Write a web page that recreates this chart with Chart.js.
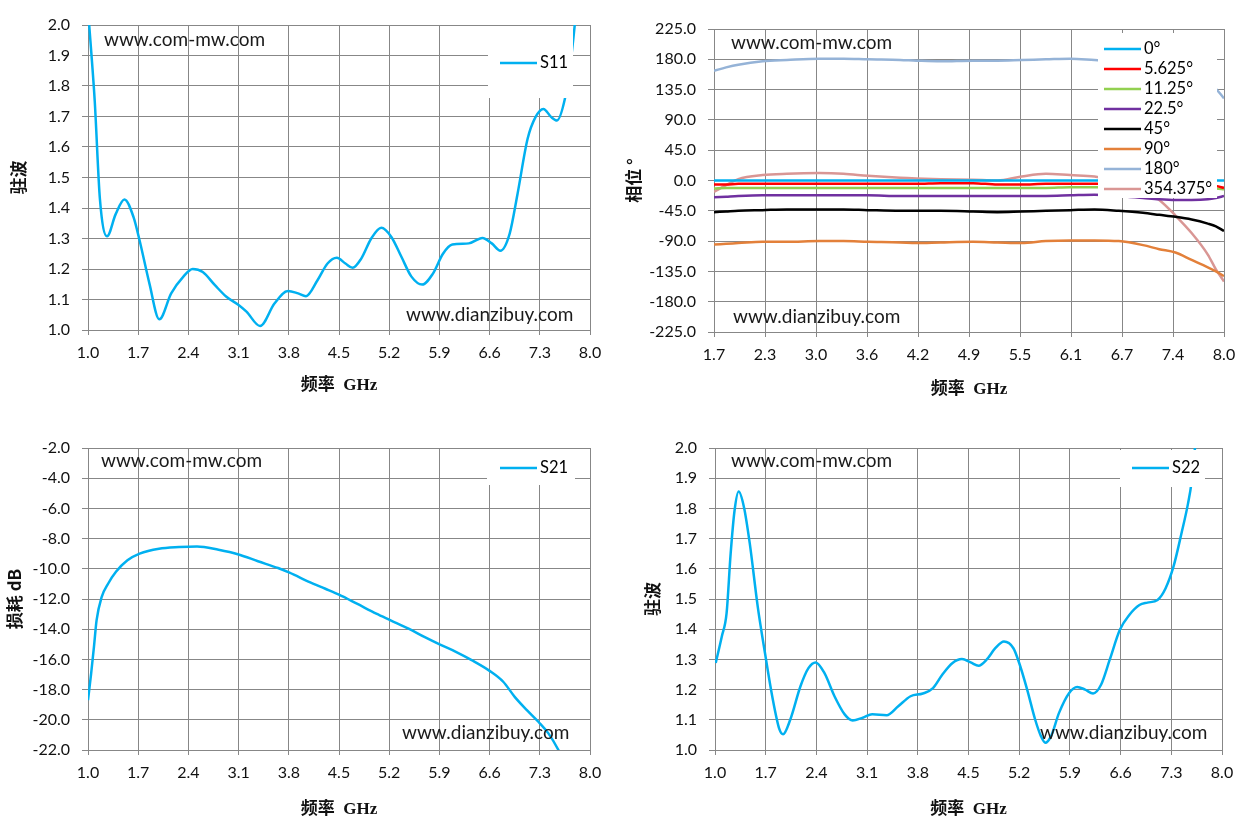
<!DOCTYPE html>
<html>
<head>
<meta charset="utf-8">
<script src="https://cdn.jsdelivr.net/npm/chart.js@4.4.1/dist/chart.umd.min.js"></script>
<style>
  body { margin: 0; background: #fff; }
  .cell { position: absolute; }
</style>
</head>
<body>
<div class="cell" style="left:0;top:0"><canvas id="s11" width="626" height="416"></canvas></div>
<div class="cell" style="left:616px;top:0"><canvas id="phase" width="637" height="416"></canvas></div>
<div class="cell" style="left:0;top:416px"><canvas id="s21" width="626" height="416"></canvas></div>
<div class="cell" style="left:626px;top:416px"><canvas id="s22" width="627" height="416"></canvas></div>
<script>
// ---- data ----
const freqLabels = ["1.0", "1.7", "2.4", "3.1", "3.8", "4.5", "5.2", "5.9", "6.6", "7.3", "8.0"];
const phaseFreqLabels = ["1.7", "2.3", "3.0", "3.6", "4.2", "4.9", "5.5", "6.1", "6.7", "7.4", "8.0"];

const s11Freq = [1.0, 1.044, 1.094, 1.166, 1.265, 1.386, 1.508, 1.635, 1.718, 1.856, 1.994, 2.16, 2.33, 2.46, 2.6,
  2.77, 2.93, 3.1, 3.21, 3.4, 3.6, 3.79, 3.93, 4.04, 4.2, 4.34, 4.47, 4.59, 4.69, 4.81, 4.95, 5.09, 5.23, 5.37,
  5.51, 5.66, 5.81, 5.95, 6.08, 6.31, 6.5, 6.63, 6.75, 6.88, 6.99, 7.13, 7.24, 7.35, 7.46, 7.54, 7.65, 7.72, 7.77, 7.8];
const s11Vswr = [2.05, 1.916, 1.75, 1.43, 1.307, 1.38, 1.428, 1.37, 1.295, 1.153, 1.035, 1.12, 1.175, 1.2, 1.19,
  1.147, 1.109, 1.082, 1.06, 1.013, 1.087, 1.128, 1.12, 1.111, 1.163, 1.218, 1.237, 1.218, 1.204, 1.234, 1.30, 1.335,
  1.305, 1.24, 1.175, 1.149, 1.185, 1.25, 1.28, 1.284, 1.302, 1.284, 1.26, 1.316, 1.447, 1.627, 1.698, 1.725, 1.698,
  1.687, 1.758, 1.86, 1.96, 2.03];

const phaseFreq = [1.7, 1.85, 2.0, 2.3, 2.6, 3.0, 3.3, 3.6, 4.0, 4.2, 4.5, 4.9, 5.2, 5.5, 5.8, 6.1, 6.4, 6.7, 7.0,
  7.2, 7.4, 7.6, 7.8, 7.9, 8.0];
const phase0 = [0, 0, 0, 0, 0, 0, 0, 0, 0, 0, 0, 0, 0, 0, 0, 0, 0, 0, 0, 0, 0, 0, 0, 0, 0];
const phase5625 = [-6, -6, -5, -5, -5, -5, -5, -5, -5, -5, -4, -4, -6, -6, -5, -5, -5, -5, -5, -5, -5, -5, -6, -8, -11];
const phase1125 = [-12, -11, -11, -11, -11, -11, -11, -11, -11, -11, -11, -11, -11, -11, -11, -10, -10, -10, -11, -11,
  -11, -12, -12, -12, -13];
const phase225 = [-25, -24, -23, -22, -22, -22, -22, -22, -23, -23, -23, -23, -23, -23, -23, -22, -21, -23, -26, -28,
  -29, -29, -28, -26, -23];
const phase45 = [-47, -46, -45, -44, -43, -43, -43, -44, -45, -45, -45, -46, -47, -46, -45, -44, -43, -45, -48, -51,
  -54, -58, -64, -68, -75];
const phase90 = [-95, -94, -93, -91, -91, -90, -90, -91, -92, -93, -92, -91, -92, -93, -90, -89, -89, -90, -96, -102,
  -107, -118, -129, -135, -142];
const phase180 = [163, 168, 172, 177, 179, 181, 181, 180, 179, 178, 177, 178, 178, 179, 180, 181, 179, 177, 174, 170,
  164, 155, 145, 136, 122];
const phase354 = [-17, -7, 2, 8, 10, 11, 10, 7, 4, 3, 2, 1, 0, 6, 10, 8, 6, -2, -15, -29, -52, -78, -110, -132, -150];

const s21Freq = [1.0, 1.044, 1.083, 1.12, 1.19, 1.28, 1.39, 1.55, 1.72, 1.99, 2.27, 2.52, 2.82, 3.1, 3.37, 3.65, 3.81,
  4.09, 4.31, 4.5, 4.75, 5.02, 5.22, 5.47, 5.69, 5.91, 6.13, 6.35, 6.6, 6.79, 6.95, 7.12, 7.28, 7.42, 7.56, 7.6];
const s21Loss = [-18.7, -16.93, -15.17, -13.4, -11.87, -10.99, -10.2, -9.44, -9.0, -8.67, -8.56, -8.52, -8.74, -9.05,
  -9.5, -9.95, -10.26, -10.88, -11.32, -11.71, -12.31, -12.97, -13.41, -13.96, -14.51, -15.02, -15.5, -16.05, -16.76,
  -17.48, -18.48, -19.36, -20.13, -20.9, -22.0, -22.4];

const s22Freq = [1.01, 1.094, 1.16, 1.216, 1.27, 1.327, 1.40, 1.48, 1.59, 1.69, 1.79, 1.89, 1.94, 2.04, 2.18, 2.29,
  2.39, 2.51, 2.65, 2.79, 2.90, 3.04, 3.17, 3.37, 3.53, 3.70, 3.87, 4.01, 4.14, 4.28, 4.41, 4.53, 4.64, 4.75, 4.87,
  4.99, 5.12, 5.20, 5.31, 5.42, 5.50, 5.56, 5.64, 5.75, 5.89, 6.0, 6.11, 6.22, 6.33, 6.45, 6.59, 6.72, 6.86, 6.97,
  7.11, 7.22, 7.33, 7.44, 7.53, 7.58, 7.62, 7.66];
const s22Vswr = [1.288, 1.376, 1.453, 1.65, 1.793, 1.856, 1.804, 1.684, 1.475, 1.321, 1.178, 1.068, 1.052, 1.101,
  1.211, 1.271, 1.29, 1.255, 1.178, 1.118, 1.098, 1.107, 1.118, 1.115, 1.145, 1.178, 1.187, 1.205, 1.25, 1.288, 1.301,
  1.29, 1.279, 1.299, 1.337, 1.359, 1.337, 1.288, 1.2, 1.101, 1.046, 1.024, 1.046, 1.123, 1.189, 1.209, 1.2, 1.187,
  1.216, 1.299, 1.398, 1.447, 1.48, 1.488, 1.497, 1.535, 1.607, 1.717, 1.815, 1.887, 1.986, 2.05];

// ---- styling ----
const GRID = "#878787";
const TICK_FONT = { family: "Lato, 'Open Sans', sans-serif", size: 16 };
const TITLE_FONT = { family: "'Liberation Serif', 'Noto Sans CJK SC', serif", size: 17, weight: "bold" };
const YTITLE_FONT = { family: "'Noto Sans CJK SC', sans-serif", size: 17, weight: "bold" };

const toXY = (xs, ys) => xs.map((x, i) => ({ x: x, y: ys[i] }));

// white legend box plus the two site names, drawn over the curves
const overlayPlugin = {
  id: "overlay",
  afterDatasetsDraw(chart, args, opts) {
    const ctx = chart.ctx;
    ctx.save();
    ctx.textBaseline = "middle";
    ctx.fillStyle = "#1a1a1a";
    ctx.font = "19px Lato";
    opts.marks.forEach((m) => ctx.fillText(m.text, m.x, m.y));

    const b = opts.box;
    ctx.fillStyle = "#fff";
    ctx.fillRect(b.x, b.y, b.w, b.h);
    ctx.font = "16.5px Lato";
    chart.data.datasets.forEach((ds, i) => {
      const y = opts.rowY + i * (opts.rowH || 0);
      ctx.strokeStyle = ds.borderColor;
      ctx.lineWidth = 2.5;
      ctx.beginPath();
      ctx.moveTo(opts.lineX, y);
      ctx.lineTo(opts.lineX + 37, y);
      ctx.stroke();
      ctx.fillStyle = "#000";
      ctx.fillText(ds.label, opts.lineX + 40, y);
    });
    ctx.restore();
  },
};

function xAxis(min, max, step, labels, height, titlePad) {
  return {
    type: "linear",
    min: min,
    max: max,
    ticks: {
      stepSize: step,
      padding: 8,
      color: "#111",
      font: TICK_FONT,
      maxRotation: 0,
      autoSkip: false,
      callback: (v, i) => labels[i],
    },
    grid: { color: GRID, tickLength: 5 },
    border: { color: GRID },
    title: { display: true, text: "频率  GHz", color: "#111", font: TITLE_FONT, padding: { top: 0, bottom: titlePad } },
    afterFit: (s) => { s.height = height; },
  };
}

function yAxis(min, max, step, title, width, titlePad) {
  return {
    min: min,
    max: max,
    ticks: {
      stepSize: step,
      padding: 12,
      color: "#111",
      font: TICK_FONT,
      callback: (v) => v.toFixed(1),
    },
    grid: { color: GRID, tickLength: 6 },
    border: { color: GRID },
    title: { display: true, text: title, color: "#111", font: YTITLE_FONT, padding: { top: titlePad, bottom: 0 } },
    afterFit: (s) => { s.width = width; },
  };
}

function line(label, data, color) {
  return {
    label: label,
    data: data,
    borderColor: color,
    borderWidth: 2.5,
    pointRadius: 0,
    fill: false,
    cubicInterpolationMode: "monotone",
  };
}

function makeChart(id, datasets, scales, padding, overlay) {
  return new Chart(document.getElementById(id), {
    type: "line",
    data: { datasets: datasets },
    options: {
      responsive: false,
      animation: false,
      layout: { padding: padding },
      scales: scales,
      plugins: { legend: { display: false }, tooltip: { enabled: false }, overlay: overlay },
    },
    plugins: [overlayPlugin],
  });
}

makeChart("s11",
  [line("S11", toXY(s11Freq, s11Vswr), "#00B0F0")],
  { x: xAxis(1, 8, 0.7, freqLabels, 86, 20), y: yAxis(1, 2, 0.1, "驻波", 88, 8) },
  { top: 25, right: 36, left: 0, bottom: 0 },
  {
    box: { x: 488, y: 26, w: 85, h: 72 }, rowY: 63, lineX: 500,
    marks: [{ text: "www.com-mw.com", x: 104, y: 40 }, { text: "www.dianzibuy.com", x: 406, y: 315 }],
  });

makeChart("phase",
  [
    line("0°", toXY(phaseFreq, phase0), "#00B0F0"),
    line("5.625°", toXY(phaseFreq, phase5625), "#FF0000"),
    line("11.25°", toXY(phaseFreq, phase1125), "#92D050"),
    line("22.5°", toXY(phaseFreq, phase225), "#7030A0"),
    line("45°", toXY(phaseFreq, phase45), "#000000"),
    line("90°", toXY(phaseFreq, phase90), "#E3803A"),
    line("180°", toXY(phaseFreq, phase180), "#95B3D7"),
    line("354.375°", toXY(phaseFreq, phase354), "#D99694"),
  ],
  { x: xAxis(1.7, 8, 0.63, phaseFreqLabels, 84, 16), y: yAxis(-225, 225, 45, "相位 °", 98, 7) },
  { top: 29, right: 29, left: 0, bottom: 0 },
  {
    box: { x: 482, y: 33, w: 119, h: 165 }, rowY: 49, rowH: 20, lineX: 488,
    marks: [{ text: "www.com-mw.com", x: 115, y: 43 }, { text: "www.dianzibuy.com", x: 117, y: 317 }],
  });

makeChart("s21",
  [line("S21", toXY(s21Freq, s21Loss), "#00B0F0")],
  { x: xAxis(1, 8, 0.7, freqLabels, 82, 12), y: yAxis(-22, -2, 2, "损耗 dB", 88, 4) },
  { top: 32, right: 36, left: 0, bottom: 0 },
  {
    box: { x: 487, y: 33, w: 88, h: 36 }, rowY: 52, lineX: 500,
    marks: [{ text: "www.com-mw.com", x: 101, y: 45 }, { text: "www.dianzibuy.com", x: 402, y: 317 }],
  });

makeChart("s22",
  [line("S22", toXY(s22Freq, s22Vswr), "#00B0F0")],
  { x: xAxis(1, 8, 0.7, freqLabels, 82, 12), y: yAxis(1, 2, 0.1, "驻波", 89, 16) },
  { top: 32, right: 31, left: 0, bottom: 0 },
  {
    box: { x: 494, y: 34, w: 85, h: 37 }, rowY: 52, lineX: 506,
    marks: [{ text: "www.com-mw.com", x: 105, y: 45 }, { text: "www.dianzibuy.com", x: 414, y: 317 }],
  });
</script>
</body>
</html>
